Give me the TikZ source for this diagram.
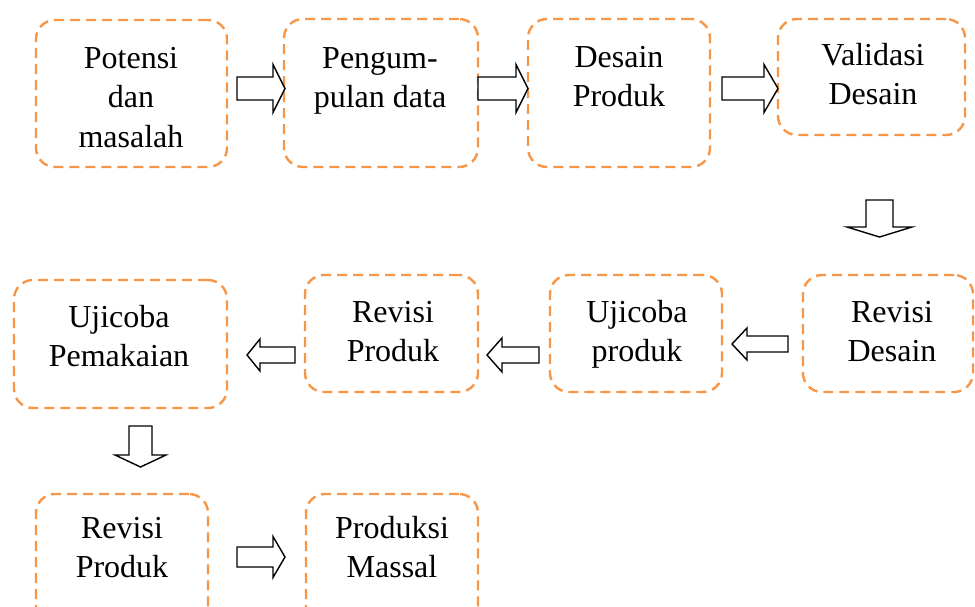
\documentclass[tikz,border=0pt]{standalone}
\usepackage{fontspec}
\setmainfont{Liberation Serif}
\definecolor{boxorange}{HTML}{F79646}
\newcommand\RArr[6]{\draw[barrow] (#1,{#4-#5}) -- (#2,{#4-#5}) -- (#2,{#4-#6}) -- (#3,#4) -- (#2,{#4+#6}) -- (#2,{#4+#5}) -- (#1,{#4+#5}) -- cycle;}
\newcommand\DArr[6]{\draw[barrow] ({#1-#5},#2) -- ({#1-#5},#3) -- ({#1-#6},#3) -- (#1,#4) -- ({#1+#6},#3) -- ({#1+#5},#3) -- ({#1+#5},#2) -- cycle;}
\begin{document}
\begin{tikzpicture}[x=1pt,y=-1pt,
  box/.style={draw=boxorange, line width=2.4pt, dash pattern=on 10pt off 6pt, rounded corners=19pt, inner sep=0pt},
  barrow/.style={draw=black, line width=1.4pt, fill=white, line join=miter},
  lbl/.style={anchor=base, inner sep=0pt, font=\fontsize{32pt}{39.5pt}\selectfont}]
\useasboundingbox (0,0) rectangle (975,606);
\clip (0,0) rectangle (975,606);
% boxes
\node[box, minimum width=191pt, minimum height=147pt] (b1) at (131.5,93.5) {};
\node[box, minimum width=194pt, minimum height=148pt] (b2) at (381,93) {};
\node[box, minimum width=182pt, minimum height=148pt] (b3) at (619,93) {};
\node[box, minimum width=187pt, minimum height=116pt] (b4) at (871.5,77) {};
\node[box, minimum width=170pt, minimum height=117pt] (b5) at (888,333.5) {};
\node[box, minimum width=172pt, minimum height=117pt] (b6) at (636,333.5) {};
\node[box, minimum width=173pt, minimum height=117pt] (b7) at (391.5,333.5) {};
\node[box, minimum width=213pt, minimum height=128pt] (b8) at (120.5,344) {};
\node[box, minimum width=172pt, minimum height=146pt] (b9) at (122,567) {};
\node[box, minimum width=172pt, minimum height=146pt] (b10) at (392,567) {};
% texts
\node[lbl] (t1) at (131,68) {\begin{tabular}[t]{@{}c@{}}Potensi\\dan\\masalah\end{tabular}};
\node[lbl] (t2) at (380,68) {\begin{tabular}[t]{@{}c@{}}Pengum-\\pulan data\end{tabular}};
\node[lbl] (t3) at (619,67) {\begin{tabular}[t]{@{}c@{}}Desain\\Produk\end{tabular}};
\node[lbl] (t4) at (873,65) {\begin{tabular}[t]{@{}c@{}}Validasi\\Desain\end{tabular}};
\node[lbl] (t5) at (892,322) {\begin{tabular}[t]{@{}c@{}}Revisi\\Desain\end{tabular}};
\node[lbl] (t6) at (637,322) {\begin{tabular}[t]{@{}c@{}}Ujicoba\\produk\end{tabular}};
\node[lbl] (t7) at (393,322) {\begin{tabular}[t]{@{}c@{}}Revisi\\Produk\end{tabular}};
\node[lbl] (t8) at (119,327) {\begin{tabular}[t]{@{}c@{}}Ujicoba\\Pemakaian\end{tabular}};
\node[lbl] (t9) at (122,538) {\begin{tabular}[t]{@{}c@{}}Revisi\\Produk\end{tabular}};
\node[lbl] (t10) at (392,538) {\begin{tabular}[t]{@{}c@{}}Produksi\\Massal\end{tabular}};
% block arrows
\RArr{237}{273}{285}{88.5}{11.5}{24}
\RArr{478}{516}{528}{88.5}{11.5}{24}
\RArr{722}{764}{778}{88.5}{11.5}{24}
\DArr{879.5}{200}{227}{237}{13.5}{32.5}
\RArr{788}{747}{732}{344}{8}{16}
\RArr{539}{502}{487}{355}{8}{17}
\RArr{295}{260}{247}{355}{8}{16}
\DArr{140.5}{426}{455}{467}{11.5}{25.5}
\RArr{237}{273}{285}{557}{10}{20.5}
\end{tikzpicture}
\end{document}
